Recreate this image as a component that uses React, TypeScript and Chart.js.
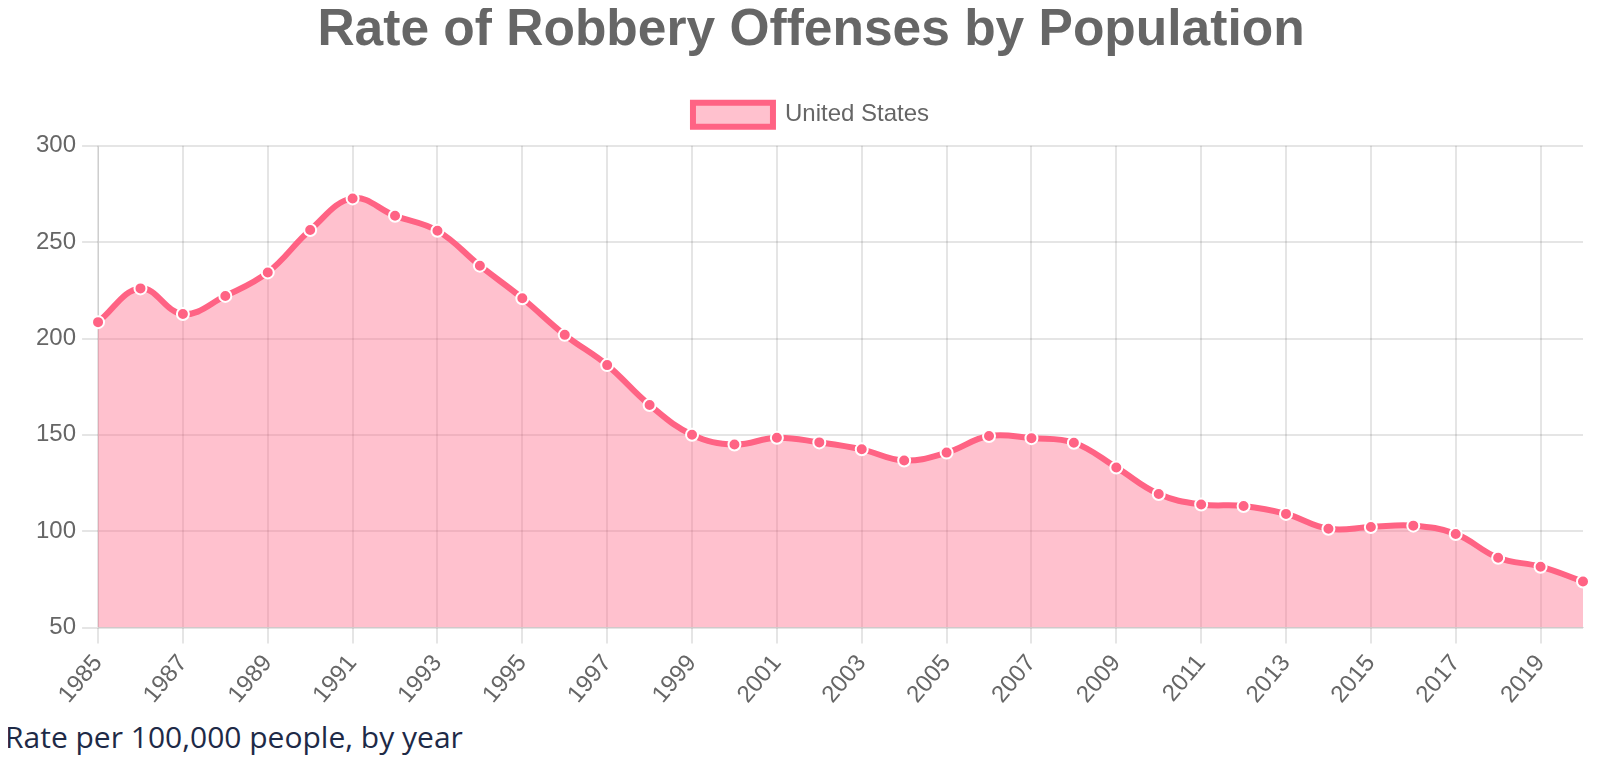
import { Chart, registerables } from 'chart.js';
import { useEffect, useRef } from 'react';
Chart.register(...registerables);

// FBI UCR robbery rate, per 100,000 people
const years = Array.from({ length: 36 }, (_, i) => String(1985 + i));
const robberyRate = [
  208.5, 226.0, 212.7, 222.1, 234.3, 256.3, 272.7, 263.7, 255.9, 237.8,
  220.9, 201.9, 186.2, 165.5, 150.1, 145.0, 148.5, 146.1, 142.5, 136.7,
  140.8, 149.4, 148.3, 145.9, 133.1, 119.3, 113.9, 113.1, 109.0, 101.3,
  102.2, 102.9, 98.6, 86.2, 81.6, 73.9,
];
const seriesLabel = 'United States';
const chartTitle = 'Rate of Robbery Offenses by Population';
const caption = 'Rate per 100,000 people, by year';

const FONT = '"Liberation Sans", Arial, Helvetica, sans-serif';
const PINK = 'rgb(255, 99, 132)';

// a little more room between legend and plot
const legendGap = {
  id: 'legendGap',
  beforeLayout(chart: any) {
    const lg = chart.legend;
    if (!lg || lg._gapPatched) return;
    const fit = lg.fit;
    lg.fit = function () {
      fit.call(this);
      this.height += 9;
    };
    lg._gapPatched = true;
  },
};

export default function App() {
  const ref = useRef<HTMLCanvasElement | null>(null);
  useEffect(() => {
    if (!ref.current) return;
    const c = new Chart(ref.current, {
      type: 'line',
      data: {
        labels: years,
        datasets: [
          {
            label: seriesLabel,
            data: robberyRate,
            borderColor: PINK,
            backgroundColor: 'rgba(255, 99, 132, 0.4)',
            fill: true,
            borderWidth: 6,
            tension: 0.4,
            pointRadius: 6,
            pointBorderWidth: 2,
            pointBorderColor: '#fff',
            pointBackgroundColor: PINK,
          },
        ],
      },
      options: {
        animation: false,
        responsive: true,
        maintainAspectRatio: false,
        layout: { padding: { left: 30, right: 6, top: 0, bottom: 1 } },
        plugins: {
          title: {
            display: true,
            text: chartTitle,
            color: '#666',
            font: { family: FONT, size: 51.5, weight: 'bold' },
            padding: { top: 0, bottom: 12 },
          },
          legend: {
            labels: {
              color: '#666',
              font: { family: FONT, size: 24 },
              boxWidth: 80,
              boxHeight: 24,
              padding: 29,
            },
          },
          tooltip: { enabled: false },
        },
        scales: {
          x: {
            afterFit: (s: any) => {
              s.paddingRight = Math.max(s.paddingRight, 15);
            },
            grid: { color: 'rgba(0,0,0,0.1)', lineWidth: 2, tickLength: 16 },
            ticks: {
              color: '#666',
              font: { family: FONT, size: 24 },
              padding: 6,
              maxTicksLimit: 18,
              minRotation: 50,
              maxRotation: 50,
            },
          },
          y: {
            min: 50,
            max: 300,
            grid: { color: 'rgba(0,0,0,0.1)', lineWidth: 2, tickLength: 16 },
            ticks: {
              stepSize: 50,
              color: '#666',
              font: { family: FONT, size: 24 },
              padding: 6,
            },
          },
        },
      },
      plugins: [legendGap],
    });
    return () => c.destroy();
  }, []);
  return (
    <div style={{ margin: '-8px 0 0 -8px', width: 1598 }}>
      <div style={{ position: 'relative', width: 1598, height: 716 }}>
        <canvas ref={ref} />
      </div>
      <div
        style={{
          fontFamily: '"Open Sans", sans-serif',
          fontSize: 30,
          color: '#1e2a47',
          paddingLeft: 5,
        }}
      >
        {caption}
      </div>
    </div>
  );
}
